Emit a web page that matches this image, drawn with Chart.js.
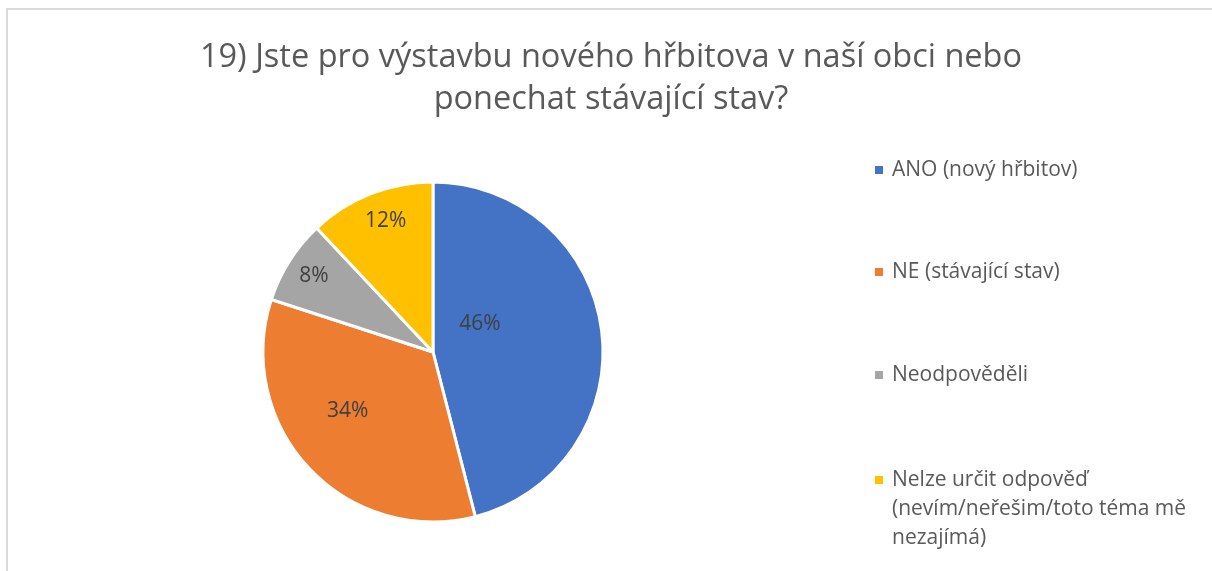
<!DOCTYPE html>
<html>
<head>
<meta charset="utf-8">
<script src="https://cdn.jsdelivr.net/npm/chart.js@4/dist/chart.umd.min.js"></script>
<style>
  html, body { margin: 0; padding: 0; background: #ffffff; }
  #wrap { position: relative; width: 1212px; height: 571px; }
  canvas { display: block; }
</style>
</head>
<body>
<div id="wrap"><canvas id="c" width="1212" height="571"></canvas></div>
<script>
// Survey question and answers
const titleLines = [
  '19) Jste pro výstavbu nového hřbitova v naší obci nebo',
  'ponechat stávající stav?'
];
const categories = [
  ['ANO (nový hřbitov)'],
  ['NE (stávající stav)'],
  ['Neodpověděli'],
  ['Nelze určit odpověď', '(nevím/neřešim/toto téma mě', 'nezajímá)']
];
const shares = [46, 34, 8, 12];
const sliceColors = ['#4472C4', '#ED7D31', '#A5A5A5', '#FFC000'];

const FONT = '"Open Sans", Lato, sans-serif';

// Where each percentage sits inside its slice: [fraction of the slice's sweep, fraction of the radius]
const labelPlacement = [[0.36, 0.32], [0.57, 0.61], [0.5, 0.83], [0.54, 0.82]];

const frame = {
  id: 'frame',
  beforeDraw(chart) {
    const ctx = chart.ctx;
    ctx.save();
    ctx.fillStyle = '#ffffff';
    ctx.fillRect(0, 0, chart.width, chart.height);
    ctx.strokeStyle = '#d9d9d9';
    ctx.lineWidth = 2;
    ctx.beginPath();
    ctx.moveTo(7, chart.height);
    ctx.lineTo(7, 9);
    ctx.lineTo(chart.width, 9);
    ctx.stroke();
    ctx.restore();
  }
};

const headings = {
  id: 'headings',
  afterDraw(chart) {
    const ctx = chart.ctx;
    ctx.save();
    ctx.fillStyle = '#595959';
    ctx.font = '32.5px ' + FONT;
    ctx.textAlign = 'center';
    ctx.textBaseline = 'alphabetic';
    titleLines.forEach((t, i) => ctx.fillText(t, 611, 67 + i * 42));
    ctx.restore();
  }
};

const sideLegend = {
  id: 'sideLegend',
  afterDraw(chart) {
    const ctx = chart.ctx;
    const rowsY = [170, 272, 375, 480];
    ctx.save();
    ctx.font = '21px ' + FONT;
    ctx.textAlign = 'left';
    ctx.textBaseline = 'middle';
    categories.forEach((lines, i) => {
      ctx.fillStyle = sliceColors[i];
      ctx.fillRect(875, rowsY[i] - 4, 8, 8);
      ctx.fillStyle = '#595959';
      lines.forEach((t, j) => ctx.fillText(t, 892, rowsY[i] + j * 29));
    });
    ctx.restore();
  }
};

const sliceLabels = {
  id: 'sliceLabels',
  afterDatasetsDraw(chart) {
    const ctx = chart.ctx;
    const meta = chart.getDatasetMeta(0);
    ctx.save();
    ctx.font = '21px ' + FONT;
    ctx.fillStyle = '#404040';
    ctx.textAlign = 'center';
    ctx.textBaseline = 'middle';
    meta.data.forEach((arc, i) => {
      const p = arc.getProps(['x', 'y', 'startAngle', 'endAngle', 'outerRadius']);
      const [fa, fr] = labelPlacement[i];
      const a = p.startAngle + (p.endAngle - p.startAngle) * fa;
      const r = p.outerRadius * fr;
      ctx.fillText(shares[i] + '%', p.x + Math.cos(a) * r, p.y + Math.sin(a) * r);
    });
    ctx.restore();
  }
};

new Chart(document.getElementById('c'), {
  type: 'pie',
  data: {
    labels: categories.map(l => l.join(' ')),
    datasets: [{
      data: shares,
      backgroundColor: sliceColors,
      borderColor: '#ffffff',
      borderWidth: 3
    }]
  },
  options: {
    responsive: false,
    animation: false,
    radius: 170,
    layout: { padding: { left: 10, right: 356, top: 140, bottom: 7 } },
    plugins: {
      legend: { display: false },
      title: { display: false },
      tooltip: { enabled: false }
    }
  },
  plugins: [frame, headings, sideLegend, sliceLabels]
});
</script>
</body>
</html>
